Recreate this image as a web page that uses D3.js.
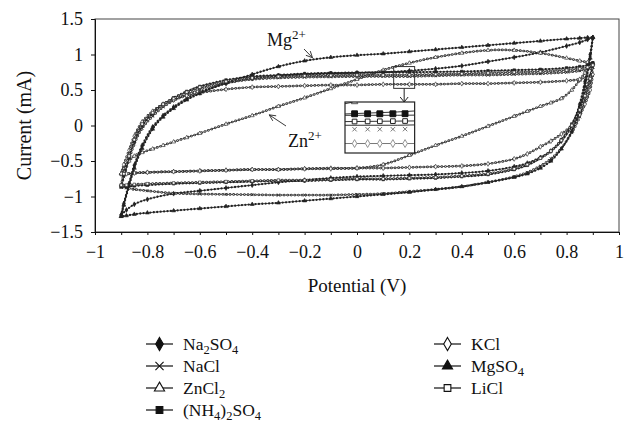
<!DOCTYPE html>
<html>
<head>
<meta charset="utf-8">
<script src="https://cdn.jsdelivr.net/npm/d3@7"></script>
<style>
body { margin: 0; background: #fff; }
text { font-family: "Liberation Serif", "Times New Roman", serif; fill: #111; }
</style>
</head>
<body>
<div id="chart"></div>
<script>
// cyclic voltammograms, 7 electrolytes, forward scan then reverse scan
var potentialUp = [-0.9, -0.89, -0.87, -0.85, -0.82, -0.78, -0.74, -0.7, -0.65, -0.6, -0.5, -0.4, -0.3, -0.2, -0.1, 0, 0.1, 0.2, 0.3, 0.4, 0.5, 0.6, 0.7, 0.8, 0.85, 0.88, 0.9];
var potentialDown = [0.9, 0.89, 0.87, 0.85, 0.82, 0.78, 0.74, 0.7, 0.65, 0.6, 0.5, 0.4, 0.3, 0.2, 0.1, 0, -0.1, -0.2, -0.3, -0.4, -0.5, -0.6, -0.7, -0.8, -0.85, -0.88, -0.9];

var na2so4Up   = [-1.26, -1.1, -0.82, -0.56, -0.28, -0.02, 0.14, 0.26, 0.38, 0.47, 0.59, 0.66, 0.7, 0.72, 0.73, 0.74, 0.75, 0.77, 0.8, 0.84, 0.9, 0.96, 1.03, 1.12, 1.17, 1.21, 1.24];
var na2so4Down = [1.24, 1.0, 0.62, 0.3, 0.0, -0.22, -0.36, -0.45, -0.53, -0.58, -0.64, -0.67, -0.69, -0.7, -0.71, -0.72, -0.74, -0.77, -0.8, -0.84, -0.88, -0.92, -0.96, -1.04, -1.11, -1.19, -1.26];

var naclUp   = [-0.87, -0.72, -0.48, -0.26, -0.04, 0.13, 0.26, 0.35, 0.44, 0.51, 0.6, 0.65, 0.67, 0.68, 0.685, 0.69, 0.69, 0.69, 0.7, 0.71, 0.71, 0.72, 0.73, 0.75, 0.77, 0.79, 0.82];
var naclDown = [0.82, 0.6, 0.35, 0.12, -0.1, -0.32, -0.47, -0.57, -0.66, -0.72, -0.8, -0.86, -0.9, -0.93, -0.96, -0.97, -0.98, -0.98, -0.98, -0.975, -0.97, -0.965, -0.955, -0.92, -0.9, -0.88, -0.87];

var zncl2Up   = [-0.68, -0.6, -0.5, -0.43, -0.38, -0.33, -0.28, -0.23, -0.17, -0.11, 0.02, 0.14, 0.27, 0.39, 0.52, 0.65, 0.78, 0.88, 0.96, 1.02, 1.06, 1.06, 1.02, 0.95, 0.91, 0.89, 0.87];
var zncl2Down = [0.87, 0.84, 0.74, 0.64, 0.5, 0.38, 0.32, 0.27, 0.2, 0.13, -0.01, -0.15, -0.28, -0.42, -0.55, -0.6, -0.6, -0.61, -0.62, -0.62, -0.63, -0.64, -0.65, -0.66, -0.67, -0.68, -0.68];

var nh4Up   = [-0.86, -0.7, -0.45, -0.22, 0.0, 0.17, 0.3, 0.39, 0.48, 0.55, 0.64, 0.69, 0.71, 0.73, 0.74, 0.745, 0.75, 0.75, 0.755, 0.76, 0.77, 0.78, 0.79, 0.81, 0.83, 0.85, 0.88];
var nh4Down = [0.88, 0.7, 0.45, 0.25, 0.02, -0.2, -0.36, -0.46, -0.56, -0.62, -0.69, -0.72, -0.74, -0.75, -0.76, -0.76, -0.77, -0.78, -0.78, -0.79, -0.8, -0.81, -0.82, -0.84, -0.85, -0.86, -0.86];

var kclUp   = [-0.68, -0.55, -0.35, -0.15, 0.05, 0.2, 0.3, 0.36, 0.42, 0.46, 0.51, 0.54, 0.55, 0.56, 0.57, 0.57, 0.58, 0.58, 0.58, 0.59, 0.59, 0.6, 0.61, 0.63, 0.65, 0.68, 0.72];
var kclDown = [0.72, 0.5, 0.3, 0.15, 0.0, -0.12, -0.22, -0.3, -0.4, -0.47, -0.54, -0.57, -0.58, -0.59, -0.6, -0.6, -0.61, -0.61, -0.62, -0.62, -0.63, -0.64, -0.65, -0.66, -0.67, -0.68, -0.68];

var mgso4Up   = [-1.28, -1.12, -0.85, -0.6, -0.32, -0.05, 0.12, 0.24, 0.36, 0.45, 0.6, 0.72, 0.83, 0.91, 0.96, 0.99, 1.01, 1.04, 1.07, 1.1, 1.13, 1.16, 1.19, 1.22, 1.23, 1.24, 1.24];
var mgso4Down = [1.24, 0.95, 0.55, 0.22, -0.08, -0.33, -0.5, -0.6, -0.68, -0.73, -0.8, -0.86, -0.9, -0.94, -0.97, -1.0, -1.03, -1.06, -1.09, -1.11, -1.14, -1.17, -1.2, -1.23, -1.25, -1.27, -1.28];

var liclUp   = [-0.84, -0.68, -0.43, -0.2, 0.02, 0.18, 0.3, 0.38, 0.47, 0.54, 0.62, 0.67, 0.69, 0.7, 0.705, 0.71, 0.71, 0.715, 0.72, 0.73, 0.74, 0.75, 0.76, 0.78, 0.8, 0.82, 0.85];
var liclDown = [0.85, 0.66, 0.42, 0.22, 0.0, -0.21, -0.36, -0.46, -0.55, -0.61, -0.68, -0.71, -0.73, -0.74, -0.75, -0.75, -0.76, -0.77, -0.77, -0.78, -0.79, -0.8, -0.81, -0.82, -0.83, -0.84, -0.84];

var xTickValues = [-1, -0.9, -0.8, -0.7, -0.6, -0.5, -0.4, -0.3, -0.2, -0.1, 0, 0.1, 0.2, 0.3, 0.4, 0.5, 0.6, 0.7, 0.8, 0.9, 1];
var yTickValues = [-1.5, -1, -0.5, 0, 0.5, 1, 1.5];

// zoom window shown in the inset (potential, current)
var insetPotential = [0.14, 0.22];
var insetCurrent = [0.523, 0.83];
var insetMarkerPotentials = [0.151, 0.166, 0.18, 0.195, 0.209];

var symTimes = d3.symbolTimes || d3.symbolX;

var series = [
	{name: "Na_2SO_4",     up: na2so4Up, down: na2so4Down, sym: d3.symbolDiamond,  filled: true},
	{name: "NaCl",         up: naclUp,   down: naclDown,   sym: symTimes,          filled: false, cross: true},
	{name: "ZnCl_2",       up: zncl2Up,  down: zncl2Down,  sym: d3.symbolTriangle, filled: false},
	{name: "(NH_4)_2SO_4", up: nh4Up,    down: nh4Down,    sym: d3.symbolSquare,   filled: true},
	{name: "KCl",          up: kclUp,    down: kclDown,    sym: d3.symbolDiamond,  filled: false},
	{name: "MgSO_4",       up: mgso4Up,  down: mgso4Down,  sym: d3.symbolTriangle, filled: true},
	{name: "LiCl",         up: liclUp,   down: liclDown,   sym: d3.symbolSquare,   filled: false}
];

var width = 625;
var height = 426;
var plot = {left: 95, right: 619, top: 19, bottom: 232};

var svg = d3.select("#chart").append("svg")
	.attr("width", width)
	.attr("height", height)
	.style("display", "block");

svg.append("rect").attr("width", width).attr("height", height).attr("fill", "#fff");

var x = d3.scaleLinear().domain([-1, 1]).range([plot.left, plot.right]);
var y = d3.scaleLinear().domain([-1.5, 1.5]).range([plot.bottom, plot.top]);

function fmt(d) {
	return (d < 0 ? "\u2212" : "") + Math.abs(d);
}

function loopPoints(s) {
	var pts = s.up.map(function(c, i) { return [potentialUp[i], c]; });
	return pts.concat(s.down.map(function(c, i) { return [potentialDown[i], c]; }));
}

// frame
svg.append("rect")
	.attr("x", plot.left).attr("y", plot.top)
	.attr("width", plot.right - plot.left).attr("height", plot.bottom - plot.top)
	.attr("fill", "none").attr("stroke", "#444").attr("stroke-width", 1);

// axes
var xAxis = svg.append("g")
	.attr("transform", "translate(0," + plot.bottom + ")")
	.call(d3.axisBottom(x).tickValues(xTickValues).tickSize(3).tickPadding(10)
		.tickFormat(function(d) { return Math.round(d * 10) % 2 === 0 ? fmt(d) : ""; }));
var yAxis = svg.append("g")
	.attr("transform", "translate(" + plot.left + ",0)")
	.call(d3.axisLeft(y).tickValues(yTickValues).tickSize(4).tickPadding(8).tickFormat(fmt));

[xAxis, yAxis].forEach(function(a) {
	a.select(".domain").attr("stroke", "#111");
	a.selectAll(".tick line").attr("stroke", "#111");
	a.selectAll("text").attr("font-size", 18).attr("fill", "#111")
		.style("font-family", '"Liberation Serif", serif');
});

svg.append("text")
	.attr("x", x(0)).attr("y", 292)
	.attr("text-anchor", "middle").attr("font-size", 19)
	.text("Potential (V)");

svg.append("text")
	.attr("transform", "translate(31," + y(0) + ") rotate(-90)")
	.attr("text-anchor", "middle").attr("font-size", 20)
	.text("Current (mA)");

// curves
var line = d3.line()
	.x(function(d) { return x(d[0]); })
	.y(function(d) { return y(d[1]); })
	.curve(d3.curveCatmullRom.alpha(0.5));

var curves = svg.append("g").attr("class", "curves");

series.forEach(function(s) {
	var pts = loopPoints(s);
	var g = curves.append("g");
	g.append("path").attr("d", line(pts))
		.attr("fill", "none").attr("stroke", "#222").attr("stroke-width", 0.8);
	if (s.filled) {
		g.append("path").attr("d", line(pts))
			.attr("fill", "none").attr("stroke", "#222").attr("stroke-width", 2.3)
			.attr("stroke-linecap", "round").attr("stroke-dasharray", "0 3.4");
	} else {
		g.append("path").attr("d", line(pts))
			.attr("fill", "none").attr("stroke", "#333").attr("stroke-width", 2.7)
			.attr("stroke-linecap", "round").attr("stroke-dasharray", "0 3.6");
		g.append("path").attr("d", line(pts))
			.attr("fill", "none").attr("stroke", "#fff").attr("stroke-width", 0.9)
			.attr("stroke-linecap", "round").attr("stroke-dasharray", "0 3.6");
	}
	g.selectAll("path.pt").data(pts).enter().append("path")
		.attr("class", "pt")
		.attr("transform", function(d) { return "translate(" + x(d[0]) + "," + y(d[1]) + ")"; })
		.attr("d", d3.symbol().type(s.sym).size(7))
		.attr("fill", s.filled ? "#222" : "#fff")
		.attr("stroke", "#222").attr("stroke-width", 0.6);
});

// zoom window and inset
var win = {
	x0: x(insetPotential[0]), x1: x(insetPotential[1]),
	y0: y(insetCurrent[1]), y1: y(insetCurrent[0])
};
var inset = {x: 345, y: 102, w: win.x1 - 345, h: 51};

svg.append("rect")
	.attr("x", win.x0).attr("y", win.y0)
	.attr("width", win.x1 - win.x0).attr("height", win.y1 - win.y0)
	.attr("fill", "none").attr("stroke", "#333").attr("stroke-width", 1);

var ax = (win.x0 + win.x1) / 2;
svg.append("line").attr("x1", ax).attr("y1", win.y1).attr("x2", ax).attr("y2", inset.y)
	.attr("stroke", "#222").attr("stroke-width", 1);
svg.append("path")
	.attr("d", "M" + (ax - 4) + "," + (inset.y - 5) + "L" + ax + "," + inset.y + "L" + (ax + 4) + "," + (inset.y - 5))
	.attr("fill", "none").attr("stroke", "#222").attr("stroke-width", 1);

var ix = d3.scaleLinear().domain(insetPotential).range([inset.x, inset.x + inset.w]);
var iy = d3.scaleLinear().domain(insetCurrent).range([inset.y + inset.h, inset.y]);

svg.append("clipPath").attr("id", "insetClip")
	.append("rect").attr("x", inset.x).attr("y", inset.y).attr("width", inset.w).attr("height", inset.h);

svg.append("rect")
	.attr("x", inset.x).attr("y", inset.y).attr("width", inset.w).attr("height", inset.h)
	.attr("fill", "#fff");

var insetG = svg.append("g").attr("clip-path", "url(#insetClip)");
var insetLine = d3.line()
	.x(function(d) { return ix(d[0]); })
	.y(function(d) { return iy(d[1]); });

series.forEach(function(s) {
	var pts = s.up.map(function(c, i) { return [potentialUp[i], c]; });
	insetG.append("path").attr("d", insetLine(pts))
		.attr("fill", "none").attr("stroke", s.name === "KCl" ? "#777" : "#333").attr("stroke-width", 1);
});

var insetStyle = {
	"(NH_4)_2SO_4": {size: 34, fill: "#111", stroke: "#111", sw: 1, dy: -1.5},
	"LiCl": {size: 22, fill: "#fff", stroke: "#222", sw: 1, dy: 0},
	"NaCl": {size: 14, fill: "none", stroke: "#666", sw: 0.9, dy: 4},
	"KCl": {size: 18, fill: "#fff", stroke: "#888", sw: 0.9, dy: 0},
	"ZnCl_2": {size: 18, fill: "#fff", stroke: "#444", sw: 0.9, dy: 0},
	"MgSO_4": {size: 20, fill: "#111", stroke: "#111", sw: 1, dy: 0}
};

// open and lower markers first so the filled squares sit on top
["KCl", "NaCl", "ZnCl_2", "MgSO_4", "LiCl", "(NH_4)_2SO_4"].forEach(function(nm) {
	var s = series.filter(function(d) { return d.name === nm; })[0];
	var interp = d3.scaleLinear().domain(potentialUp).range(s.up);
	var st = insetStyle[nm];
	insetG.selectAll(null).data(insetMarkerPotentials).enter().append("path")
		.attr("transform", function(v) { return "translate(" + ix(v) + "," + (iy(interp(v)) + st.dy) + ")"; })
		.attr("d", d3.symbol().type(s.sym).size(st.size))
		.attr("fill", st.fill).attr("stroke", st.stroke).attr("stroke-width", st.sw);
});

svg.append("rect")
	.attr("x", inset.x).attr("y", inset.y).attr("width", inset.w).attr("height", inset.h)
	.attr("fill", "none").attr("stroke", "#222").attr("stroke-width", 1.2);

// annotations
function ionLabel(tx, ty, base) {
	var t = svg.append("text").attr("x", tx).attr("y", ty).attr("font-size", 18);
	t.append("tspan").text(base);
	t.append("tspan").attr("dy", -7).attr("font-size", 13).text("2+");
	return t;
}
function arrow(x1, y1, x2, y2) {
	svg.append("line").attr("x1", x1).attr("y1", y1).attr("x2", x2).attr("y2", y2)
		.attr("stroke", "#222").attr("stroke-width", 0.9);
	var a = Math.atan2(y2 - y1, x2 - x1);
	var L = 7, w = 0.45;
	var p1 = [x2 - L * Math.cos(a - w), y2 - L * Math.sin(a - w)];
	var p2 = [x2 - L * Math.cos(a + w), y2 - L * Math.sin(a + w)];
	svg.append("path")
		.attr("d", "M" + p1 + "L" + x2 + "," + y2 + "L" + p2)
		.attr("fill", "none").attr("stroke", "#222").attr("stroke-width", 0.9);
}

ionLabel(267, 46, "Mg");
arrow(304, 49, x(-0.17), y(0.955));
ionLabel(288, 147, "Zn");
arrow(286, 126, x(-0.335), y(0.15));

// legend
var legend = svg.append("g");
var cols = [{line: 146, text: 183}, {line: 434, text: 471}];
var rowY = [344, 366, 388, 410];

function addLabel(sel, label) {
	var parts = label.split(/_(\d)/);
	var shift = 0;
	parts.forEach(function(p, i) {
		if (p === "") return;
		if (i % 2 === 1) {
			sel.append("tspan").attr("dy", 3.5 - shift).attr("font-size", 12.5).text(p);
			shift = 3.5;
		} else {
			var t = sel.append("tspan").text(p);
			if (shift) t.attr("dy", -shift);
			shift = 0;
		}
	});
}

series.forEach(function(s, i) {
	var c = cols[i < 4 ? 0 : 1];
	var ry = rowY[i < 4 ? i : i - 4];
	var g = legend.append("g");
	g.append("line").attr("x1", c.line).attr("x2", c.line + 27).attr("y1", ry).attr("y2", ry)
		.attr("stroke", "#222").attr("stroke-width", 1.3);
	g.append("path")
		.attr("transform", "translate(" + (c.line + 13.5) + "," + ry + ")")
		.attr("d", d3.symbol().type(s.sym).size(s.sym === d3.symbolDiamond ? 50 : 45))
		.attr("fill", s.filled ? "#111" : (s.cross ? "none" : "#fff"))
		.attr("stroke", "#111").attr("stroke-width", 1.1);
	var t = g.append("text").attr("x", c.text).attr("y", ry + 6).attr("font-size", 17.5);
	addLabel(t, s.name);
});
</script>
</body>
</html>
